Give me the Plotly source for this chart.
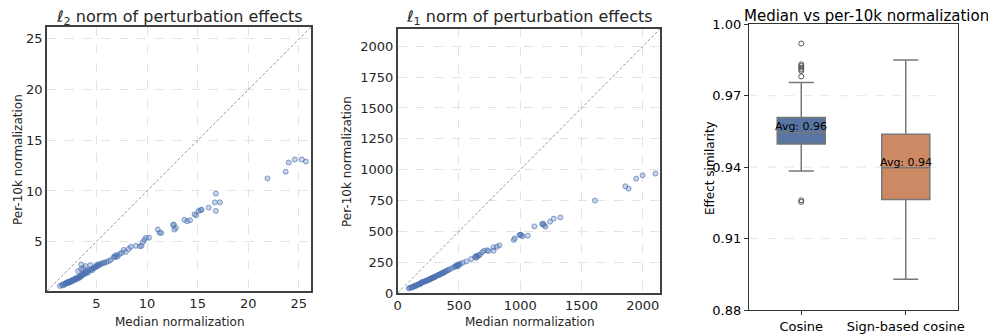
import plotly.graph_objects as go
from plotly.subplots import make_subplots

# l2 norm panel: median normalization vs per-10k normalization
l2_median = [1.4, 1.6, 1.7, 1.8, 1.9, 2.0, 2.0, 2.1, 2.2, 2.2, 2.3, 2.4, 2.4, 2.5, 2.6, 2.6, 2.7, 2.8, 2.8, 2.9,
             3.0, 3.0, 3.1, 3.2, 3.2, 3.3, 3.4, 3.4, 3.5, 3.6, 3.6, 3.7, 3.8, 3.9, 4.0, 4.0, 4.1, 4.2, 4.3, 4.4,
             4.5, 4.6, 4.7, 4.8, 4.9, 5.0, 5.0, 5.1, 5.2, 5.3, 5.4, 5.5, 5.7, 5.8, 6.0, 6.2, 6.4,
             3.5, 3.9, 4.4, 3.5, 3.2, 3.7,
             6.7, 6.8, 6.9, 7.0, 7.1, 7.3, 7.5, 7.7, 7.9, 8.2, 8.4, 8.9, 9.3, 9.45, 9.6, 9.75, 9.9, 10.2,
             11.07, 11.25, 11.4, 12.57, 12.65, 12.7, 12.85, 13.7, 13.96, 14.25, 14.7, 14.85, 15.1, 15.3, 15.4,
             16.1, 16.8, 16.7, 17.2, 16.8, 21.9, 23.7, 24.0, 24.6, 25.3, 25.7]
l2_per10k = [0.65, 0.75, 0.7, 0.85, 0.8, 0.95, 0.88, 1.0, 0.92, 1.05, 1.0, 1.1, 1.02, 1.15, 1.1, 1.2, 1.25, 1.2, 1.3, 1.35,
             1.3, 1.42, 1.45, 1.38, 1.5, 1.55, 1.6, 1.5, 1.65, 1.7, 1.8, 1.75, 1.85, 1.95, 1.9, 2.05, 2.1, 2.0, 2.2, 2.25,
             2.3, 2.2, 2.4, 2.45, 2.5, 2.55, 2.7, 2.6, 2.75, 2.7, 2.8, 2.85, 2.9, 2.95, 3.0, 3.1, 3.2,
             2.77, 2.6, 2.7, 2.3, 2.1, 2.4,
             3.45, 3.6, 3.5, 3.7, 3.55, 3.8, 3.9, 4.2, 4.0, 4.3, 4.5, 4.6, 4.55, 4.6, 4.96, 5.2, 5.4, 5.4,
             6.2, 5.88, 5.88, 6.65, 6.7, 6.2, 6.37, 7.16, 7.02, 7.12, 7.7, 7.6, 8.04, 8.1, 8.17,
             8.36, 9.74, 8.88, 8.88, 8.04, 11.24, 11.9, 12.8, 13.1, 13.1, 12.9]

# l1 norm panel
l1_median = [90, 100, 110, 120, 130, 140, 150, 160, 170, 180, 190, 200, 210, 220, 230, 240, 250, 260, 270, 280,
             290, 300, 310, 320, 330, 340, 350, 360, 370, 380, 390, 400, 420, 440, 460, 470, 480, 490, 500, 510,
             530, 560, 600, 630, 640, 650, 670, 690, 705, 730, 740, 782, 781, 808, 830,
             120, 150, 180, 200, 230, 260, 280, 300, 340, 370, 410, 480, 495, 640, 660,
             947, 955, 995, 1000, 1008, 1018, 1061, 1115, 1178, 1186, 1194, 1205, 1243, 1273, 1327,
             1609, 1857, 1884, 1946, 1998, 2103]
l1_per10k = [38, 42, 45, 50, 52, 58, 62, 66, 70, 76, 80, 84, 90, 94, 98, 103, 107, 112, 117, 122,
             126, 131, 135, 140, 145, 150, 155, 160, 166, 170, 175, 180, 190, 200, 210, 216, 222, 228, 232, 236,
             245, 256, 275, 292, 300, 296, 310, 330, 343, 346, 340, 343, 370, 375, 386,
             45, 58, 70, 90, 95, 108, 118, 127, 146, 160, 185, 215, 220, 285, 305,
             430, 443, 470, 472, 470, 459, 465, 540, 559, 562, 551, 538, 578, 603, 613,
             749, 865, 846, 927, 954, 968]

# effect similarity boxes
box_names = ["Cosine", "Sign-based cosine"]
box_q1 = [0.9497, 0.9264]
box_median = [0.9546, 0.9398]
box_q3 = [0.9609, 0.9538]
box_low = [0.9384, 0.8929]
box_high = [0.9756, 0.9850]
box_mean = [0.9555, 0.9405]
box_colors = ["#5975a4", "#cc8963"]
cos_outliers = [0.9919, 0.9832, 0.9825, 0.9818, 0.9810, 0.9804, 0.9781, 0.9261, 0.9254]

# page body has an 8px margin, so size the figure to fill the rest of the window
W, H, OFF = 988, 327, 8
def fx(px):
    return (px - OFF) / W
def fy(px):
    return 1 - (px - OFF) / H

dark = "#262626"
fig = make_subplots(rows=1, cols=3)

pt = dict(size=5, color="rgba(76,114,176,0.3)", line=dict(color="rgba(76,114,176,0.65)", width=1))
fig.add_trace(go.Scatter(x=l2_median, y=l2_per10k, mode="markers", marker=pt), row=1, col=1)
fig.add_trace(go.Scatter(x=l1_median, y=l1_per10k, mode="markers", marker=pt), row=1, col=2)

for i, name in enumerate(box_names):
    fig.add_trace(go.Box(x=[name], q1=[box_q1[i]], median=[box_median[i]], q3=[box_q3[i]],
                         lowerfence=[box_low[i]], upperfence=[box_high[i]],
                         fillcolor=box_colors[i], line=dict(color="#787878", width=1.5),
                         width=0.46, whiskerwidth=0.52, boxpoints=False), row=1, col=3)
    fig.add_annotation(x=name, y=box_mean[i], xref="x3", yref="y3", text=f"Avg: {box_mean[i]:.2f}",
                       showarrow=False, yanchor="bottom", yshift=-5,
                       font=dict(size=11, color="black"))
fig.add_trace(go.Scatter(x=[box_names[0]] * len(cos_outliers), y=cos_outliers, mode="markers",
                         marker=dict(symbol="circle-open", size=5, color="#555555", line=dict(width=1))),
              row=1, col=3)

grid = dict(showgrid=True, gridcolor="#e3e3e3", griddash="dash", gridwidth=1, zeroline=False,
            showline=True, mirror=True, linecolor="#404040", linewidth=1.6, ticks="", automargin=False,
            tickfont=dict(size=13, color=dark))
fig.update_xaxes(grid, domain=[fx(47), fx(311)], range=[0.12, 26.2], tickvals=[5, 10, 15, 20, 25], row=1, col=1)
fig.update_yaxes(grid, domain=[fy(291), fy(27)], range=[0.15, 26.15], tickvals=[5, 10, 15, 20, 25], row=1, col=1)
fig.update_xaxes(grid, domain=[fx(397.7), fx(660)], range=[0, 2140], tickvals=[0, 500, 1000, 1500, 2000],
                 row=1, col=2)
fig.update_yaxes(grid, domain=[fy(293), fy(29)], range=[0, 2140],
                 tickvals=[0, 250, 500, 750, 1000, 1250, 1500, 1750, 2000], row=1, col=2)
fig.update_xaxes(domain=[fx(749), fx(958)], range=[-0.5, 1.5], showgrid=False, showline=True, mirror=True,
                 linecolor="#333333", linewidth=1.2, ticks="outside", ticklen=4, tickcolor="#333333",
                 automargin=False, tickfont=dict(size=13, color="black"), row=1, col=3)
fig.update_yaxes(domain=[fy(310), fy(24.3)], range=[0.88, 1.0], showgrid=False, zeroline=False, showline=True,
                 mirror=True, linecolor="#333333", linewidth=1.2, ticks="outside", ticklen=4,
                 tickcolor="#333333", tickvals=[0.88, 0.91, 0.94, 0.97, 1.0], tickformat=".2f",
                 automargin=False, tickfont=dict(size=13, color="black"), row=1, col=3)

# diagonal y = x reference lines and faint grid lines on the box panel
for ax in ["x", "x2"]:
    yax = ax.replace("x", "y")
    fig.add_shape(type="line", xref=f"{ax} domain", yref=f"{yax} domain", x0=0, y0=0, x1=1, y1=1,
                  line=dict(color="#808080", width=0.8, dash="3px,2px"))
for v in [0.91, 0.94, 0.97]:
    fig.add_shape(type="line", xref="x3 domain", yref="y3", x0=0, x1=0.9, y0=v, y1=v, layer="below",
                  line=dict(color="#e6e6e6", width=1, dash="dash"))

texts = [
    (179, 17, "ℓ<sub>2</sub> norm of perturbation effects", 16, 0, dark),
    (529, 18, "ℓ<sub>1</sub> norm of perturbation effects", 16, 0, dark),
    (866, 16, "Median vs per-10k normalization", 15, 0, "black"),
    (179, 322, "Median normalization", 12, 0, dark),
    (529, 322, "Median normalization", 12, 0, dark),
    (18, 160, "Per-10k normalization", 12, -90, dark),
    (347, 162, "Per-10k normalization", 12, -90, dark),
    (710, 168, "Effect similarity", 12, -90, "black"),
]
for x, y, t, s, a, c in texts:
    fig.add_annotation(x=fx(x), y=fy(y), xref="paper", yref="paper", text=t, showarrow=False,
                       textangle=a, xanchor="center", yanchor="middle", font=dict(size=s, color=c))

fig.update_layout(width=W, height=H, margin=dict(l=0, r=0, t=0, b=0, autoexpand=False), showlegend=False,
                  plot_bgcolor="white", paper_bgcolor="white", font=dict(family="DejaVu Sans"))
fig.write_html("out.html")
